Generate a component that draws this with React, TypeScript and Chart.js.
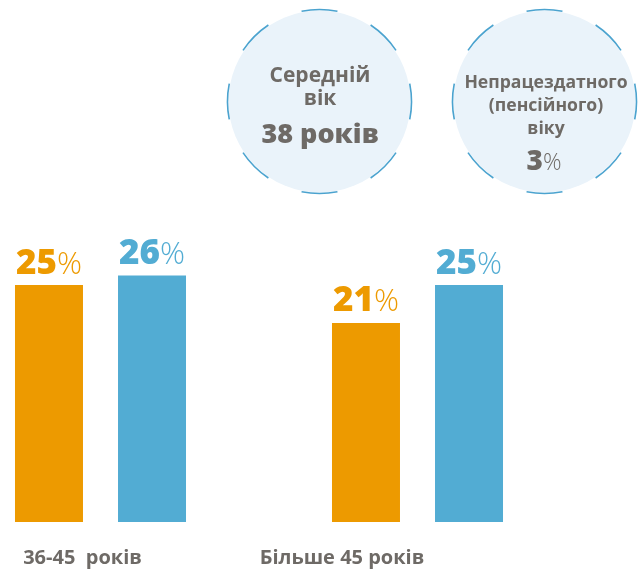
import { useEffect, useRef } from "react";
import { Chart, registerables } from "chart.js";

Chart.register(...registerables);

const categories = ["36-45  років", "Більше 45 років"];
const orangeValues = [25, 21];
const blueValues = [26, 25];
const categoryLabelShift = [-18, -75.5];
const circle1Lines = ["Середній", "вік"];
const circle1Value = "38 років";
const circle2Lines = ["Непрацездатного", "(пенсійного)", "віку"];
const circle2Value = "3";

const ORANGE = "#ED9A00";
const BLUE = "#52ACD3";
const GREY = "#6E6A66";
const FONT = "'Open Sans', 'Noto Sans', sans-serif";

function drawCircle(ctx: CanvasRenderingContext2D, cx: number, cy: number, r: number) {
  ctx.save();
  ctx.beginPath();
  ctx.arc(cx, cy, r - 1, 0, Math.PI * 2);
  ctx.fillStyle = "#EAF3FA";
  ctx.fill();
  ctx.strokeStyle = "#4BA3CF";
  ctx.lineWidth = 1.6;
  for (let k = 0; k < 8; k++) {
    const a = (k * Math.PI) / 4;
    ctx.beginPath();
    ctx.arc(cx, cy, r, a - Math.PI / 16, a + Math.PI / 16);
    ctx.stroke();
  }
  ctx.restore();
}

function drawMixed(
  ctx: CanvasRenderingContext2D,
  num: string,
  numFont: string,
  pctFont: string,
  cx: number,
  baseline: number,
  color: string
) {
  ctx.save();
  ctx.fillStyle = color;
  ctx.textBaseline = "alphabetic";
  ctx.textAlign = "left";
  ctx.font = numFont;
  const w1 = ctx.measureText(num).width;
  ctx.font = pctFont;
  const w2 = ctx.measureText("%").width;
  const x0 = cx - (w1 + w2) / 2;
  ctx.font = numFont;
  ctx.fillText(num, x0, baseline);
  ctx.font = pctFont;
  ctx.fillText("%", x0 + w1, baseline);
  ctx.restore();
}

const decorPlugin = {
  id: "decor",
  beforeDatasetsDraw(chart: any) {
    const ctx: CanvasRenderingContext2D = chart.ctx;
    drawCircle(ctx, 319.5, 101.5, 92);
    drawCircle(ctx, 544.5, 101.5, 92);
    ctx.save();
    ctx.fillStyle = GREY;
    ctx.textAlign = "center";
    ctx.textBaseline = "alphabetic";
    ctx.font = `bold 21px ${FONT}`;
    ctx.fillText(circle1Lines[0], 320, 82);
    ctx.fillText(circle1Lines[1], 320, 105);
    ctx.font = `800 27px ${FONT}`;
    ctx.fillText(circle1Value, 320, 143);
    ctx.font = `bold 17.6px ${FONT}`;
    ctx.fillText(circle2Lines[0], 546, 88);
    ctx.fillText(circle2Lines[1], 546, 111);
    ctx.fillText(circle2Lines[2], 546, 134);
    ctx.restore();
    drawMixed(ctx, circle2Value, `800 28px ${FONT}`, `300 23px ${FONT}`, 544, 170, GREY);
  },
  afterDatasetsDraw(chart: any) {
    const ctx: CanvasRenderingContext2D = chart.ctx;
    chart.data.datasets.forEach((ds: any, di: number) => {
      const meta = chart.getDatasetMeta(di);
      meta.data.forEach((bar: any, i: number) => {
        drawMixed(
          ctx,
          String(ds.data[i]),
          `800 35px ${FONT}`,
          `300 31px ${FONT}`,
          bar.x,
          bar.y - 11.5,
          ds.backgroundColor
        );
      });
    });
    const xs = chart.scales.x;
    ctx.save();
    ctx.fillStyle = GREY;
    ctx.textAlign = "center";
    ctx.textBaseline = "alphabetic";
    ctx.font = `bold 20px ${FONT}`;
    categories.forEach((c, i) => {
      ctx.fillText(c, xs.getPixelForValue(i) + categoryLabelShift[i], 563.5);
    });
    ctx.restore();
  },
};

export default function App() {
  const ref = useRef<HTMLCanvasElement | null>(null);
  useEffect(() => {
    document.body.style.margin = "0";
    const canvas = ref.current!;
    const chart = new Chart(canvas, {
      type: "bar",
      data: {
        labels: categories,
        datasets: [
          {
            data: orangeValues,
            backgroundColor: ORANGE,
            barPercentage: 0.66,
            categoryPercentage: 0.65,
            clip: false as any,
          },
          {
            data: blueValues,
            backgroundColor: BLUE,
            barPercentage: 0.66,
            categoryPercentage: 0.65,
            clip: false as any,
          },
        ],
      },
      options: {
        responsive: false,
        animation: false,
        layout: { padding: { left: 100.5, right: 225.5, top: 237.6, bottom: 50 } },
        scales: {
          x: { display: false, offset: false },
          y: { display: false, min: 0, max: 30 },
        },
        plugins: { legend: { display: false }, tooltip: { enabled: false } },
      },
      plugins: [decorPlugin],
    });
    return () => chart.destroy();
  }, []);
  return (
    <div style={{ width: 643, height: 572 }}>
      <canvas ref={ref} width={643} height={572} style={{ display: "block" }} />
    </div>
  );
}
